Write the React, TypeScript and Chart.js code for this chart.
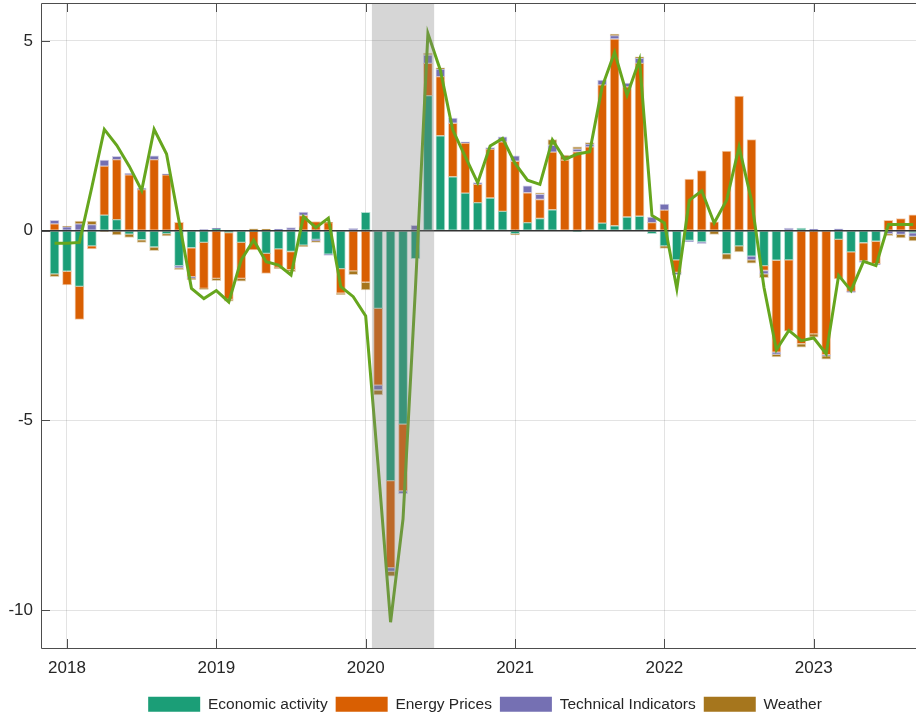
import React, { useEffect, useRef } from "react";
import { Chart, registerables } from "chart.js";

Chart.register(...registerables);

// ---- data ----
const MONTHS = [
  "2017-12",
  "2018-01","2018-02","2018-03","2018-04","2018-05","2018-06","2018-07","2018-08","2018-09","2018-10","2018-11","2018-12",
  "2019-01","2019-02","2019-03","2019-04","2019-05","2019-06","2019-07","2019-08","2019-09","2019-10","2019-11","2019-12",
  "2020-01","2020-02","2020-03","2020-04","2020-05","2020-06","2020-07","2020-08","2020-09","2020-10","2020-11","2020-12",
  "2021-01","2021-02","2021-03","2021-04","2021-05","2021-06","2021-07","2021-08","2021-09","2021-10","2021-11","2021-12",
  "2022-01","2022-02","2022-03","2022-04","2022-05","2022-06","2022-07","2022-08","2022-09","2022-10","2022-11","2022-12",
  "2023-01","2023-02","2023-03","2023-04","2023-05","2023-06","2023-07","2023-08","2023-09",
];

const ECONOMIC_ACTIVITY = [
  -1.14,
  -1.07, -1.47, -0.40, 0.41, 0.29, -0.09, -0.24, -0.43, -0.08, -0.92, -0.45, -0.31,
  0.05, -0.05, -0.31, -0.02, -0.60, -0.48, -0.55, -0.38, -0.23, -0.62, -1.00, 0.0,
  0.48, -2.05, -6.59, -5.10, -0.74, 3.56, 2.50, 1.42, 0.99, 0.74, 0.86, 0.51,
  -0.08, 0.21, 0.32, 0.55, 0.0, -0.02, 0.0, 0.20, 0.13, 0.36, 0.38, -0.08,
  -0.40, -0.77, -0.26, -0.30, 0.0, -0.61, -0.40, -0.67, -0.92, -0.78, -0.77, 0.07,
  0.0, 0.0, -0.23, -0.56, -0.32, -0.28, 0.0, 0.0, -0.06,
];

const ENERGY_PRICES = [
  0.18,
  -0.36, -0.87, -0.08, 1.29, 1.58, 1.47, 1.08, 1.87, 1.47, 0.22, -0.76, -1.21,
  -1.26, -1.76, -0.95, -0.49, -0.53, -0.49, -0.48, 0.40, 0.24, 0.21, -0.65, -1.06,
  -1.36, -2.02, -2.29, -1.76, 0.0, 0.85, 1.56, 1.41, 1.32, 0.48, 1.29, 1.83,
  1.83, 0.79, 0.50, 1.52, 1.86, 2.08, 2.21, 3.64, 4.92, 3.43, 4.03, 0.21,
  0.54, -0.33, 1.36, 1.58, 0.23, 2.10, 3.55, 2.40, -0.13, -2.42, -1.88, -2.98,
  -2.72, -3.27, -1.04, -1.04, -0.48, -0.59, 0.27, 0.32, 0.42,
];

const TECHNICAL_INDICATORS = [
  0.09,
  0.10, 0.18, 0.16, 0.16, 0.09, 0.04, 0.04, 0.10, 0.03, -0.06, -0.04, 0.03,
  0.02, 0.0, 0.0, 0.0, 0.0, 0.04, 0.08, 0.09, -0.04, -0.03, 0.0, 0.06,
  0.0, -0.13, -0.10, -0.07, 0.14, 0.22, 0.20, 0.14, 0.03, 0.05, 0.04, 0.13,
  0.14, 0.18, 0.14, 0.18, 0.0, 0.07, 0.07, 0.13, 0.09, 0.10, 0.13, 0.15,
  0.16, -0.06, -0.03, -0.04, 0.0, 0.0, 0.0, -0.10, -0.09, -0.06, 0.07, 0.0,
  0.04, -0.03, 0.05, -0.03, -0.04, -0.03, -0.08, -0.10, -0.09,
];

const WEATHER = [
  -0.07,
  0.02, 0.07, 0.09, -0.02, -0.11, -0.09, -0.07, -0.10, -0.06, -0.05, -0.04, -0.03,
  -0.06, -0.05, -0.07, 0.05, 0.04, -0.03, -0.05, -0.04, -0.04, 0.01, -0.04, -0.10,
  -0.20, -0.13, -0.13, 0.0, 0.0, 0.05, 0.03, 0.0, 0.0, 0.0, 0.0, 0.0,
  -0.03, 0.0, 0.04, 0.15, 0.13, 0.06, 0.04, 0.0, 0.04, 0.0, 0.04, 0.0,
  -0.07, 0.0, 0.0, 0.0, -0.10, -0.15, -0.16, -0.09, -0.10, -0.07, 0.0, -0.09,
  -0.09, -0.09, 0.0, 0.0, 0.0, 0.0, -0.05, -0.09, -0.12,
];

const NOWCAST = [
  -0.33,
  -0.33, -0.31, 1.15, 2.67, 2.25, 1.70, 1.06, 2.67, 2.02, 0.25, -1.52, -1.79,
  -1.58, -1.88, -0.77, -0.25, -0.82, -0.91, -1.17, 0.37, 0.08, 0.33, -1.48, -1.74,
  -2.25, -6.2, -10.32, -7.6, -1.5, 5.2, 4.23, 2.65, 1.95, 1.26, 2.23, 2.43,
  1.77, 1.33, 1.22, 2.39, 1.88, 2.02, 2.08, 3.79, 4.7, 3.57, 4.5, 0.4,
  0.2, -1.53, 0.8, 1.05, 0.2, 0.8, 2.21, 0.8, -1.49, -3.14, -2.63, -2.9,
  -2.83, -3.25, -1.18, -1.58, -0.81, -0.92, 0.16, 0.16, 0.16,
];

const SERIES_NAMES = ["Economic activity", "Energy Prices", "Technical Indicators", "Weather"];
const SERIES_COLORS = ["#1b9e77", "#d95f02", "#7570b3", "#a6761d"];
const LINE_COLOR = "#66a61e";

const X_TICKS = [2018, 2019, 2020, 2021, 2022, 2023];
const Y_TICKS = [-10, -5, 0, 5];
const SHADE_FROM = "2020-02";
const SHADE_TO = "2020-06";

const FONT = '"Liberation Sans", Arial, Helvetica, sans-serif';
const TEXT = "#262626";

const CANVAS_W = 970;
const CANVAS_H = 722;

const toX = (m: string) => {
  const [y, mo] = m.split("-").map(Number);
  return y + (mo - 1) / 12;
};

export default function App() {
  const ref = useRef<HTMLCanvasElement | null>(null);

  useEffect(() => {
    if (!ref.current) return;
    const xs = MONTHS.map(toX);
    const series = [ECONOMIC_ACTIVITY, ENERGY_PRICES, TECHNICAL_INDICATORS, WEATHER];

    const overlay = {
      id: "overlay",
      afterDatasetDraw(chart: any, args: any) {
        if (args.index !== 0) return;
        const { ctx, chartArea } = chart;
        const y0 = chart.scales.y.getPixelForValue(0);
        ctx.save();
        ctx.strokeStyle = "#333333";
        ctx.lineWidth = 1.5;
        ctx.beginPath();
        ctx.moveTo(chartArea.left, y0);
        ctx.lineTo(chartArea.right, y0);
        ctx.stroke();
        ctx.restore();
      },
      afterDatasetsDraw(chart: any) {
        const { ctx, chartArea } = chart;
        const xs_ = chart.scales.x;
        const ys_ = chart.scales.y;
        const half = 0.5 / 12;
        const a = xs_.getPixelForValue(toX(SHADE_FROM) - half);
        const b = xs_.getPixelForValue(toX(SHADE_TO) + half);
        ctx.save();
        ctx.fillStyle = "rgba(128,128,128,0.32)";
        ctx.fillRect(a, chartArea.top, b - a, chartArea.bottom - chartArea.top);
        ctx.strokeStyle = "#4d4d4d";
        ctx.lineWidth = 1;
        ctx.beginPath();
        ctx.rect(chartArea.left + 0.5, chartArea.top + 0.5, chartArea.right - chartArea.left, chartArea.bottom - chartArea.top);
        ctx.stroke();
        const tl = 9;
        ctx.beginPath();
        X_TICKS.forEach((v) => {
          const px = Math.round(xs_.getPixelForValue(v)) + 0.5;
          ctx.moveTo(px, chartArea.bottom);
          ctx.lineTo(px, chartArea.bottom - tl);
          ctx.moveTo(px, chartArea.top);
          ctx.lineTo(px, chartArea.top + tl);
        });
        Y_TICKS.forEach((v) => {
          const py = Math.round(ys_.getPixelForValue(v)) + 0.5;
          ctx.moveTo(chartArea.left, py);
          ctx.lineTo(chartArea.left + tl, py);
        });
        ctx.stroke();
        ctx.restore();
      },
    };

    const chart = new Chart(ref.current, {
      type: "bar",
      data: {
        datasets: [
          ...series.map((vals, i) => ({
            type: "bar" as const,
            label: SERIES_NAMES[i],
            data: vals.map((v, j) => ({ x: xs[j], y: v })),
            backgroundColor: SERIES_COLORS[i],
            borderColor: SERIES_COLORS[i] + "55",
            borderWidth: 1,
            borderSkipped: false,
            barThickness: 9,
            stack: "bars",
            order: 1,
          })),
          {
            type: "line" as const,
            label: "Nowcast",
            data: NOWCAST.map((v, j) => ({ x: xs[j], y: v })),
            borderColor: LINE_COLOR,
            backgroundColor: LINE_COLOR,
            borderWidth: 3,
            pointRadius: 0,
            tension: 0,
            fill: false,
            borderJoinStyle: "miter",
            stack: "line",
            order: 0,
          } as any,
        ],
      },
      options: {
        responsive: false,
        animation: false,
        events: [],
        layout: { padding: { top: 3, left: 0, right: 0, bottom: 0 } },
        plugins: {
          tooltip: { enabled: false },
          legend: {
            display: true,
            position: "bottom",
            labels: {
              boxWidth: 52,
              boxHeight: 15,
              padding: 8,
              color: TEXT,
              font: { family: FONT, size: 15.5 },
              generateLabels: () =>
                SERIES_NAMES.map((s, i) => ({
                  text: s,
                  fillStyle: SERIES_COLORS[i],
                  strokeStyle: SERIES_COLORS[i],
                  lineWidth: 0,
                  hidden: false,
                  datasetIndex: i,
                  fontColor: TEXT,
                })),
            },
          },
        },
        scales: {
          x: {
            type: "linear",
            min: 2017.826,
            max: 2017.826 + (CANVAS_W - 41) / 149.35,
            offset: false,
            stacked: true,
            afterBuildTicks: (s: any) => {
              s.ticks = X_TICKS.map((v) => ({ value: v }));
            },
            afterFit: (s: any) => {
              s.height = 40.5;
              s.paddingLeft = 0;
              s.paddingRight = 0;
            },
            grid: { color: "rgba(38,38,38,0.13)", lineWidth: 1, drawTicks: false, offset: false },
            border: { display: false },
            ticks: {
              autoSkip: false,
              maxRotation: 0,
              padding: 10,
              color: TEXT,
              font: { family: FONT, size: 17 },
              callback: (v: any) => String(v),
            },
          },
          y: {
            type: "linear",
            min: -11,
            max: 6,
            stacked: true,
            afterBuildTicks: (s: any) => {
              s.ticks = Y_TICKS.map((v) => ({ value: v }));
            },
            afterFit: (s: any) => {
              s.width = 41;
              s.paddingTop = 0;
              s.paddingBottom = 0;
            },
            grid: { color: "rgba(38,38,38,0.13)", lineWidth: 1, drawTicks: false },
            border: { display: false },
            ticks: {
              padding: 8,
              color: TEXT,
              font: { family: FONT, size: 17 },
              callback: (v: any) => String(v),
            },
          },
        },
      },
      plugins: [overlay],
    } as any);

    return () => chart.destroy();
  }, []);

  return (
    <div style={{ position: "absolute", left: 0, top: 0, width: 916, height: 717, overflow: "hidden", background: "#fff" }}>
      <canvas ref={ref} width={CANVAS_W} height={CANVAS_H} style={{ width: CANVAS_W, height: CANVAS_H, display: "block" }} />
    </div>
  );
}
